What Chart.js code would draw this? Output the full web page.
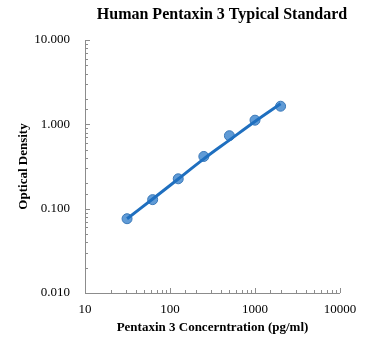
<!DOCTYPE html>
<html>
<head>
<meta charset="utf-8">
<script src="https://cdn.jsdelivr.net/npm/chart.js@4.4.0/dist/chart.umd.min.js"></script>
<style>
  html, body { margin: 0; padding: 0; background: #fff; }
  #wrap { width: 371px; height: 351px; }
</style>
</head>
<body>
<div id="wrap"><canvas id="chart"></canvas></div>
<script>
// standard points
const concentrations = [31.25, 62.5, 125, 250, 500, 1000, 2000];
const opticalDensity = [0.076, 0.128, 0.226, 0.416, 0.733, 1.12, 1.64];

// fitted curve
const trendX = [31.25, 62.5, 125, 250, 500, 1000, 2000];
const trendY = [0.076, 0.13, 0.225, 0.39, 0.65, 1.08, 1.75];

const xTickLabels = [10, 100, 1000, 10000];
const yTickLabels = [0.01, 0.1, 1, 10];

const chartTitle = 'Human Pentaxin 3 Typical Standard';
const serif = "'Liberation Serif', 'Times New Roman', serif";
const axisColor = '#8c8c8c';

function isLabel(v, list) {
    return list.some(l => Math.abs(Math.log10(v) - Math.log10(l)) < 1e-6);
}

// Excel style axes: grey lines with small inside ticks, plus the title
// (Excel centres it a bit right of the plot, so it is drawn by hand)
const axisTicks = {
    id: 'axisTicks',
    afterDraw(chart) {
        const { ctx, chartArea: a, scales } = chart;
        ctx.save();
        ctx.strokeStyle = axisColor;
        ctx.lineWidth = 1;
        ctx.beginPath();
        ctx.moveTo(a.left + 0.5, a.top);
        ctx.lineTo(a.left + 0.5, a.bottom + 0.5);
        ctx.lineTo(a.right, a.bottom + 0.5);
        scales.x.ticks.forEach(t => {
            const px = Math.round(scales.x.getPixelForValue(t.value)) + 0.5;
            const len = isLabel(t.value, xTickLabels) ? 5 : 3;
            ctx.moveTo(px, a.bottom);
            ctx.lineTo(px, a.bottom - len);
        });
        scales.y.ticks.forEach(t => {
            const py = Math.round(scales.y.getPixelForValue(t.value)) + 0.5;
            const len = isLabel(t.value, yTickLabels) ? 5 : 3;
            ctx.moveTo(a.left, py);
            ctx.lineTo(a.left + len, py);
        });
        ctx.stroke();

        ctx.fillStyle = '#000';
        ctx.font = 'bold 16px ' + serif;
        ctx.textAlign = 'center';
        ctx.textBaseline = 'middle';
        ctx.fillText(chartTitle, 222, 15);
        ctx.restore();
    }
};

new Chart(document.getElementById('chart'), {
    type: 'scatter',
    data: {
        datasets: [
            {
                label: 'Standard',
                data: concentrations.map((x, i) => ({ x: x, y: opticalDensity[i] })),
                backgroundColor: 'rgba(79, 144, 210, 0.9)',
                borderColor: '#3a78b8',
                borderWidth: 1,
                pointRadius: 5,
                order: 2
            },
            {
                label: 'Fit',
                type: 'line',
                data: trendX.map((x, i) => ({ x: x, y: trendY[i] })),
                borderColor: '#1f6fbf',
                borderWidth: 3,
                pointRadius: 0,
                tension: 0.4,
                fill: false,
                order: 1
            }
        ]
    },
    plugins: [axisTicks],
    options: {
        responsive: true,
        maintainAspectRatio: false,
        animation: false,
        layout: { padding: { left: 12, right: 31, top: 40, bottom: 8 } },
        plugins: {
            legend: { display: false },
            tooltip: { enabled: false },
            title: { display: false }
        },
        scales: {
            x: {
                type: 'logarithmic',
                min: 10,
                max: 10000,
                grid: { display: false },
                border: { display: false },
                ticks: {
                    autoSkip: false,
                    maxRotation: 0,
                    color: '#000',
                    padding: 1,
                    font: { family: serif, size: 13 },
                    callback: v => isLabel(v, xTickLabels) ? String(Math.round(v)) : ''
                },
                title: {
                    display: true,
                    text: 'Pentaxin 3 Concerntration (pg/ml)',
                    color: '#000',
                    font: { family: serif, size: 13, weight: 'bold' },
                    padding: { top: 2, bottom: 8 }
                },
                afterFit: s => { s.height = 50; }
            },
            y: {
                type: 'logarithmic',
                min: 0.01,
                max: 10,
                grid: { display: false },
                border: { display: false },
                ticks: {
                    autoSkip: false,
                    color: '#000',
                    padding: 7,
                    font: { family: serif, size: 13 },
                    callback: v => isLabel(v, yTickLabels) ? Number(v).toFixed(3) : ''
                },
                title: {
                    display: true,
                    text: 'Optical Density',
                    color: '#000',
                    font: { family: serif, size: 13, weight: 'bold' }
                },
                afterFit: s => { s.width = 73; }
            }
        }
    }
});
</script>
</body>
</html>
